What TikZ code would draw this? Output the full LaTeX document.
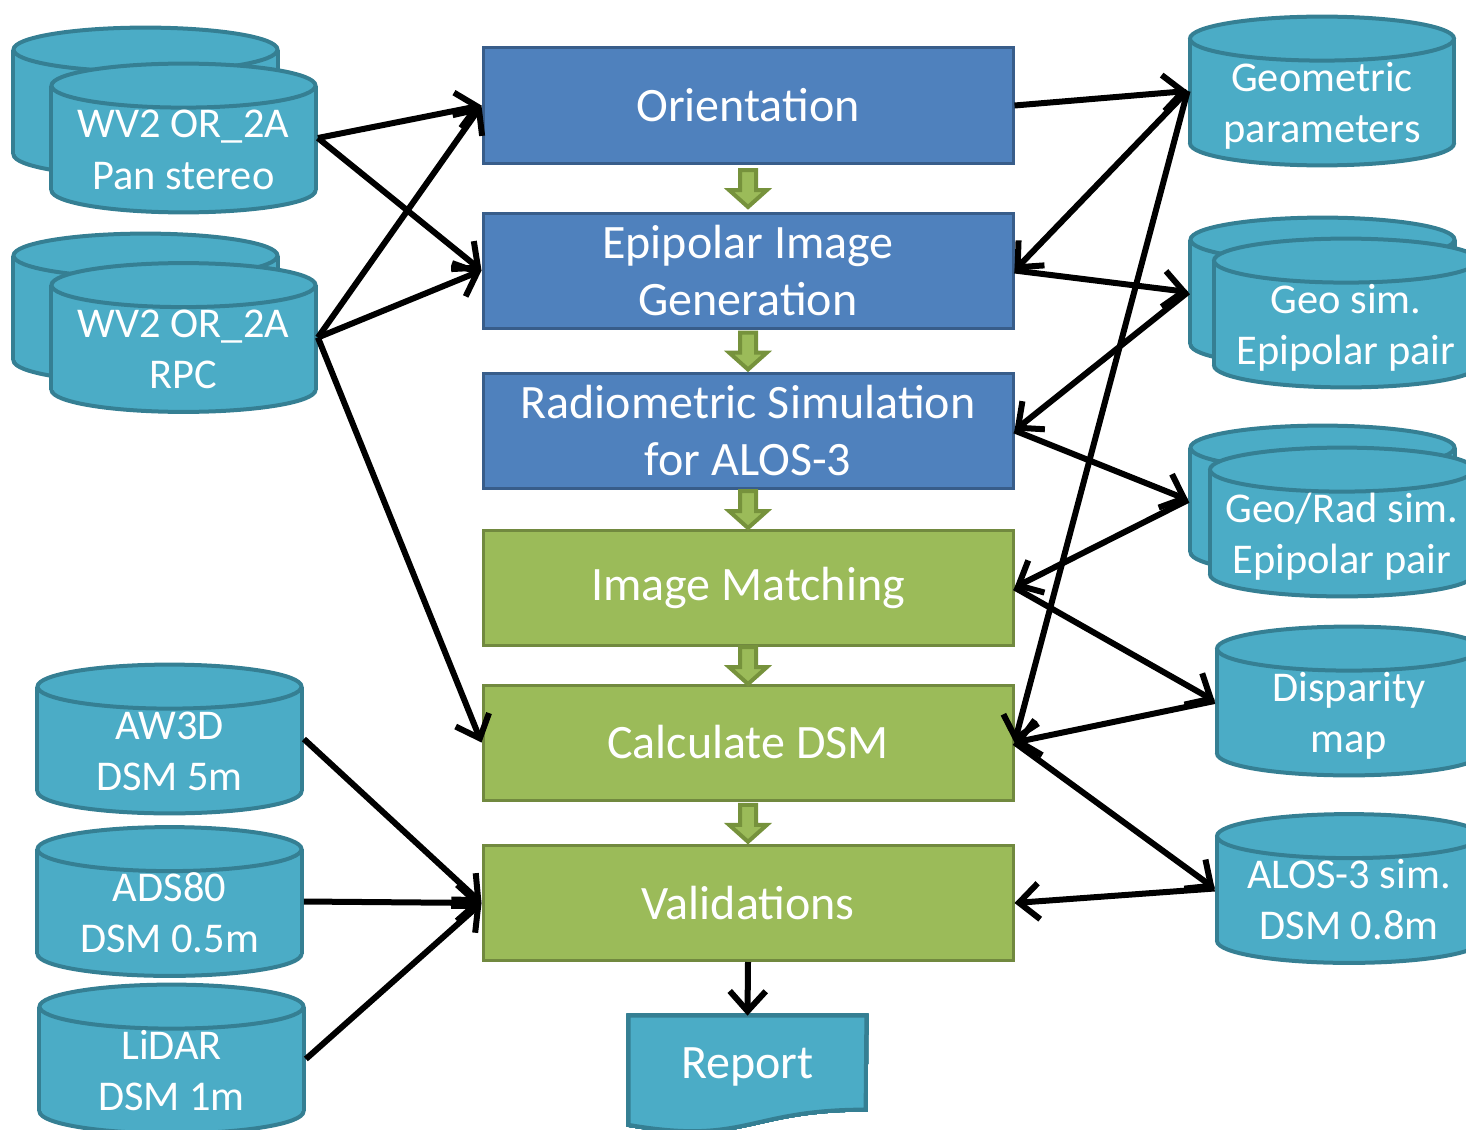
\documentclass[tikz,border=0pt]{standalone}
\usepackage{fontspec}
\setmainfont{Carlito}
\usetikzlibrary{arrows.meta,calc}
\pgfdeclarelayer{background}
\pgfsetlayers{background,main}
\definecolor{procfill}{HTML}{4F81BD}
\definecolor{procedge}{HTML}{385D8A}
\definecolor{checkfill}{HTML}{9BBB59}
\definecolor{checkedge}{HTML}{71893F}
\definecolor{drumfill}{HTML}{4BACC6}
\definecolor{drumedge}{HTML}{357F93}
\definecolor{stepedge}{HTML}{76923C}
\newcommand{\boxfont}{\fontsize{24}{28.5}\selectfont}
\newcommand{\drumfont}{\fontsize{21.2}{25.5}\selectfont}
% cylinder outline round a drum node (px offsets, y grows downwards)
\newcommand{\drumshape}[1]{%
  \filldraw[drumskin] ($(#1.south)+(0,-24)$) ellipse[x radius=66pt,y radius=11pt];
  \fill[drumfill] ($(#1.south west)+(2,-24)$) rectangle ($(#1.north east)+(-2,24)$);
  \draw[drumskin] ($(#1.south west)+(2,-24)$) -- ($(#1.north west)+(2,24)$) ($(#1.south east)+(-2,-24)$) -- ($(#1.north east)+(-2,24)$);
  \filldraw[drumskin] ($(#1.north)+(0,24)$) ellipse[x radius=66pt,y radius=11pt];}
\tikzset{
  link/.style={-{Straight Barb[length=10pt,width=18pt]},line width=3pt},
  proc/.style={draw=procedge,fill=procfill,line width=1.5pt,minimum width=265pt,minimum height=57.5pt,inner sep=2pt,align=center,text=white,font=\boxfont},
  check/.style={proc,draw=checkedge,fill=checkfill},
  stepmark/.style={draw=stepedge,fill=checkfill,line width=2pt,line join=miter},
  drumskin/.style={fill=drumfill,draw=drumedge,line width=2pt},
  drum/.style={minimum width=134pt,minimum height=76pt,inner sep=0pt,align=center,text=white,font=\drumfont,text height=56pt,text depth=5pt},
  report/.style={minimum width=118.5pt,minimum height=58.5pt,inner sep=0pt,text=white,font=\boxfont,text height=14pt,text depth=10pt}
}

\begin{document}
\begin{tikzpicture}[x=0.5pt,y=-0.5pt]
  \useasboundingbox (0,0) rectangle (1466,1129);

  % Input stores on the left.
  \node[drum] (panback) at (145.5,102) {};
  \node[drum] (pan) at (183.5,138) {WV2 OR\_2A\\Pan stereo};
  \node[drum] (rpcback) at (145.5,308) {};
  \node[drum] (rpc) at (183.5,337.5) {WV2 OR\_2A\\RPC};
  \node[drum] (aw3d) at (169.5,739) {AW3D\\DSM 5m};
  \node[drum] (ads80) at (169.5,901.5) {ADS80\\DSM 0.5m};
  \node[drum] (lidar) at (171.5,1059) {LiDAR\\DSM 1m};

  % Intermediate products on the right.
  \node[drum] (geom) at (1322,91) {Geometric\\parameters};
  \node[drum] (geosimback) at (1322.5,292) {};
  \node[drum] (geosim) at (1346,313) {Geo sim.\\Epipolar pair};
  \node[drum] (georadback) at (1322.5,500) {};
  \node[drum] (georad) at (1342,522) {Geo/Rad sim.\\Epipolar pair};
  \node[drum] (disparity) at (1349,701) {Disparity\\map};
  \node[drum] (alos) at (1349,888.5) {ALOS-3 sim.\\DSM 0.8m};

  % Processing chain.
  \node[proc] (orient) at (748,105.5) {Orientation};
  \node[proc] (epipolar) at (748,270.5) {Epipolar Image\\Generation};
  \node[proc] (radio) at (748,430.5) {Radiometric Simulation\\for ALOS-3};
  \node[check] (matching) at (748,587.5) {Image Matching};
  \node[check] (calcdsm) at (748,742.5) {Calculate DSM};
  \node[check] (valid) at (748,903) {Validations};
  \node[report] (report) at (747.5,1074.5) {Report};

  % Cylinders and the report sheet go underneath (back copies first).
  \begin{pgfonlayer}{background}
    \foreach \d in {panback,pan,rpcback,rpc,aw3d,ads80,lidar,geom,geosimback,geosim,georadback,georad,disparity,alos}
      \drumshape{\d}
    \filldraw[drumskin] (report.north west) -- (report.north east) -- ($(report.north west)+(237,94)$)
      .. controls ($(report.north west)+(118.5,94)$) and ($(report.north west)+(118.5,129.6)$) .. ($(report.north west)+(0,109.3)$) -- cycle;
  \end{pgfonlayer}

  % Block arrows between the steps.
  \foreach \a/\b in {orient/epipolar,epipolar/radio,radio/matching,matching/calcdsm,calcdsm/valid}
    \filldraw[stepmark,shift={($(\a.south)!.5!(\b.north)$)}] (-8,-18) -- (8,-18) -- (8,2) -- (19,2) -- (0,19) -- (-19,2) -- (-8,2) -- cycle;

  % Data flow.
  \draw[link] (pan.east) -- (orient.west);
  \draw[link] (pan.east) -- (epipolar.west);
  \draw[link] (rpc.east) -- (orient.west);
  \draw[link] (rpc.east) -- (epipolar.west);
  \draw[link] (rpc.east) -- (calcdsm.west);
  \draw[link] (orient.east) -- (geom.west);
  \draw[link] (geom.west) -- (epipolar.east);
  \draw[link] (geom.west) -- (calcdsm.east);
  \draw[link] (epipolar.east) -- (geosimback.west);
  \draw[link] (geosimback.west) -- (radio.east);
  \draw[link] (radio.east) -- (georadback.west);
  \draw[link] (georadback.west) -- (matching.east);
  \draw[link] (matching.east) -- (disparity.west);
  \draw[link] (disparity.west) -- (calcdsm.east);
  \draw[link] (calcdsm.east) -- (alos.west);
  \draw[link] (alos.west) -- (valid.east);
  \draw[link] (aw3d.east) -- (valid.west);
  \draw[link] (ads80.east) -- (valid.west);
  \draw[link] (lidar.east) -- (valid.west);
  \draw[link] (valid.south) -- (report.north);
\end{tikzpicture}
\end{document}
